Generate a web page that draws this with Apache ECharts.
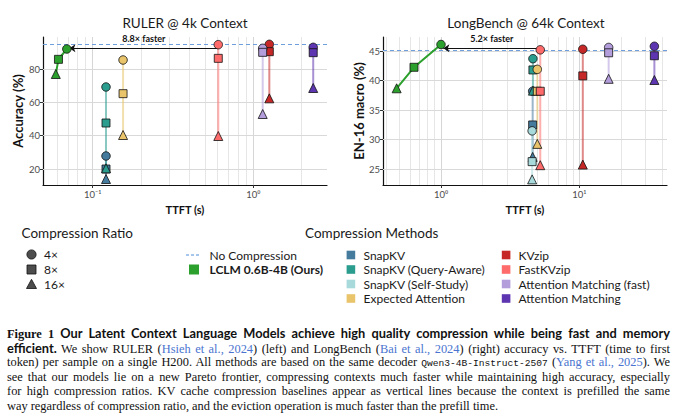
<!DOCTYPE html>
<html>
<head>
<meta charset="utf-8">
<script src="https://cdn.jsdelivr.net/npm/echarts@6/dist/echarts.min.js"></script>
<style>
html,body{margin:0;padding:0;background:#fff;}
#wrap{position:relative;width:677px;height:419px;overflow:hidden;}
#chart{position:absolute;left:0;top:0;width:677px;height:320px;}
#caption{position:absolute;left:7px;top:326px;width:663px;font-family:"Liberation Serif",serif;font-size:12.4px;line-height:14.6px;color:#111;}
#caption .ln{text-align:justify;text-align-last:justify;height:14.6px;overflow:visible;}
#caption .ln.last{text-align:left;text-align-last:left;}
#caption .f{font-weight:bold;}
#caption .b{font-family:Lato,sans-serif;font-weight:bold;font-size:12.8px;}
#caption .c{color:#4a74cf;}
#caption .m{font-family:"Liberation Mono",monospace;font-size:9.6px;}
</style>
</head>
<body>
<div id="wrap">
<div id="chart"></div>
<div id="caption">
<div class="ln"><span class="f">Figure 1</span> <span class="b">Our Latent Context Language Models achieve high quality compression while being fast and memory</span></div>
<div class="ln"><span class="b">efficient.</span> We show RULER (<span class="c">Hsieh et al., 2024</span>) (left) and LongBench (<span class="c">Bai et al., 2024</span>) (right) accuracy vs. TTFT (time to first</div>
<div class="ln">token) per sample on a single H200. All methods are based on the same decoder <span class="m">Qwen3-4B-Instruct-2507</span> (<span class="c">Yang et al., 2025</span>). We</div>
<div class="ln">see that our models lie on a new Pareto frontier, compressing contexts much faster while maintaining high accuracy, especially</div>
<div class="ln">for high compression ratios. KV cache compression baselines appear as vertical lines because the context is prefilled the same</div>
<div class="ln last">way regardless of compression ratio, and the eviction operation is much faster than the prefill time.</div>
</div>
</div>
<script>
// methods / compression ratios
var methodNames=['SnapKV','SnapKV (Query-Aware)','SnapKV (Self-Study)','Expected Attention','KVzip','FastKVzip','Attention Matching (fast)','Attention Matching','LCLM 0.6B-4B (Ours)'];
var methodColors=['#457b9d','#2a9d8f','#a8dadc','#e9c46a','#c62828','#ff6b6b','#b39ddb','#5e35b1','#2ca02c'];
var ratioLabels=['4×','8×','16×'];

// RULER @ 4k : [TTFT (s), accuracy] for 4x, 8x, 16x
var rulerSnapKV=[[0.121,27.8],[0.121,20.0],[0.121,14.0]];
var rulerSnapKVQA=[[0.121,69.2],[0.121,47.6],[0.121,20.4]];
var rulerSnapKVSS=[];
var rulerExpected=[[0.1545,85.4],[0.1545,65.2],[0.1545,40.4]];
var rulerKVzip=[[1.258,94.8],[1.258,90.4],[1.258,62.4]];
var rulerFastKVzip=[[0.605,94.6],[0.605,86.4],[0.605,39.8]];
var rulerAMFast=[[1.144,92.4],[1.144,90.0],[1.144,53.0]];
var rulerAM=[[2.36,93.0],[2.36,89.8],[2.36,68.6]];
var rulerLCLM=[[0.069,92.0],[0.0612,85.8],[0.0589,77.0]];
var rulerNoCompression=94.8;
var rulerYTicks=[20,40,60,80];

// LongBench @ 64k : [TTFT (s), EN-16 macro]
var lbSnapKV=[[4.6,38.2],[4.6,32.5],[4.6,27.1]];
var lbSnapKVQA=[[4.62,43.7],[4.62,41.8],[4.62,38.3]];
var lbSnapKVSS=[[4.56,31.5],[4.56,26.3],[4.56,23.3]];
var lbExpected=[[4.97,41.9],[4.97,38.2],[4.97,29.3]];
var lbKVzip=[[10.6,45.3],[10.6,40.8],[10.6,25.8]];
var lbFastKVzip=[[5.22,45.2],[5.22,38.2],[5.22,25.7]];
var lbAMFast=[[16.3,45.6],[16.3,44.7],[16.3,40.3]];
var lbAM=[[34.9,45.8],[34.9,44.2],[34.9,40.1]];
var lbLCLM=[[1.0,46.1],[0.638,42.25],[0.478,38.7]];
var lbNoCompression=45.2;
var lbYTicks=[25,30,35,40,45];

var xMajor=[0.1,1,10];
var rulerXGrid=[0.05,0.06,0.07,0.08,0.09,0.1,0.2,0.3,0.4,0.5,0.6,0.7,0.8,0.9,1,2];
var lbXGrid=[0.4,0.5,0.6,0.7,0.8,0.9,1,2,3,4,5,6,7,8,9,10,20,30,40];

var shapes=['circle','rect','triangle'];
var sizes=[8.5,8,9];
var FONT='Lato, "Noto Sans", sans-serif';

function powLabel(v){
	var e=Math.round(Math.log(v)/Math.LN10);
	var sup={'-':'⁻','0':'⁰','1':'¹','2':'²'};
	var s=String(e).split('').map(function(c){return sup[c];}).join('');
	return '10'+s;
}

function gridLines(xs,ys){
	var d=[];
	xs.forEach(function(v){
		var major=xMajor.indexOf(v)>=0;
		d.push({xAxis:v,lineStyle:{color:major?'#d6d6d6':'#e6e6e6',width:1,type:'solid'}});
	});
	ys.forEach(function(v){
		d.push({yAxis:v,lineStyle:{color:'#d9d9d9',width:1,type:'solid'}});
	});
	return {silent:true,symbol:'none',z:1,animation:false,label:{show:false},emphasis:{disabled:true},data:d};
}

function panelSeries(gi,sets,extras){
	var out=[];
	sets.forEach(function(pts,mi){
		if(!pts.length) return;
		var color=methodColors[mi];
		var isOurs=mi===8;
		var line={
			type:'line',xAxisIndex:gi,yAxisIndex:gi,data:pts,symbol:'none',silent:true,animation:false,z:2,
			lineStyle:{color:color,width:2,opacity:isOurs?1:0.55}
		};
		if(extras[mi]) line.markLine=extras[mi];
		out.push(line);
	});
	sets.forEach(function(pts,mi){
		if(!pts.length) return;
		out.push({
			type:'scatter',name:methodNames[mi],xAxisIndex:gi,yAxisIndex:gi,animation:false,z:3,
			data:pts.map(function(p,i){return {value:p,symbol:shapes[i],symbolSize:sizes[i]};}),
			itemStyle:{color:methodColors[mi],borderColor:'#111',borderWidth:0.8,opacity:1}
		});
	});
	return out;
}

function noCompLine(y){
	return {silent:true,symbol:'none',z:1,animation:false,label:{show:false},
		data:[{yAxis:y,lineStyle:{color:'#6e9fdc',width:1,type:[4,3]}}]};
}
function arrowLine(x0,x1,y,txt){
	return {silent:true,symbol:['arrow','none'],symbolSize:6,z:2,animation:false,
		lineStyle:{color:'#111',width:1,type:'solid'},
		label:{show:true,position:'middle',formatter:txt,fontFamily:FONT,fontWeight:'bold',fontSize:9,color:'#111',distance:5},
		data:[[{coord:[x0,y]},{coord:[x1,y]}]]};
}

function xAxisCfg(gi,min,max){
	return {
		type:'log',logBase:10,gridIndex:gi,min:min,max:max,
		axisLine:{show:true,onZero:false,lineStyle:{color:'#111',width:1.2}},
		axisTick:{show:true,customValues:xMajor.filter(function(v){return v>=min&&v<=max;}),length:3,lineStyle:{color:'#333'}},
		axisLabel:{customValues:xMajor.filter(function(v){return v>=min&&v<=max;}),formatter:powLabel,color:'#4d4d4d',fontSize:9.5,fontFamily:FONT,margin:4},
		splitLine:{show:false},minorTick:{show:false},
		name:'TTFT (s)',nameLocation:'middle',nameGap:19,
		nameTextStyle:{fontFamily:FONT,fontWeight:'bold',fontSize:11,color:'#111'}
	};
}
function yAxisCfg(gi,min,max,ticks,name,gap){
	return {
		type:'value',gridIndex:gi,min:min,max:max,
		axisLine:{show:true,lineStyle:{color:'#111',width:1.2}},
		axisTick:{show:true,customValues:ticks,length:3,lineStyle:{color:'#333'}},
		axisLabel:{customValues:ticks,color:'#4d4d4d',fontSize:9.5,fontFamily:FONT,margin:3},
		splitLine:{show:false},
		name:name,nameLocation:'middle',nameGap:gap,nameRotate:90,
		nameTextStyle:{fontFamily:FONT,fontWeight:'bold',fontSize:13,color:'#111'}
	};
}

var rulerSets=[rulerSnapKV,rulerSnapKVQA,rulerSnapKVSS,rulerExpected,rulerKVzip,rulerFastKVzip,rulerAMFast,rulerAM,rulerLCLM];
var lbSets=[lbSnapKV,lbSnapKVQA,lbSnapKVSS,lbExpected,lbKVzip,lbFastKVzip,lbAMFast,lbAM,lbLCLM];

var series=[].concat(
	panelSeries(0,rulerSets,{0:gridLines(rulerXGrid,rulerYTicks),1:noCompLine(rulerNoCompression),8:arrowLine(0.0716,rulerFastKVzip[0][0],92.4,'8.8× faster')}),
	panelSeries(1,lbSets,{0:gridLines(lbXGrid,lbYTicks),1:noCompLine(lbNoCompression),8:arrowLine(1.04,lbFastKVzip[0][0],45.45,'5.2× faster')})
);

// legends
var graphics=[];
function txt(x,y,s,size,weight,align){
	graphics.push({type:'text',x:x,y:y,silent:true,style:{text:s,fill:'#1a1a1a',font:(weight||'normal')+' '+size+'px '+FONT,align:align||'left',verticalAlign:'middle'}});
}
txt(185,23,'RULER @ 4k Context',13.5,'normal','center');
txt(526,23,'LongBench @ 64k Context',13.5,'normal','center');
txt(21.5,233,'Compression Ratio',13.5);
var ry=[254.5,269.5,284.5];
graphics.push({type:'circle',silent:true,shape:{cx:31.5,cy:ry[0],r:4.6},style:{fill:'#4d4d4d',stroke:'#111',lineWidth:0.8}});
graphics.push({type:'rect',silent:true,shape:{x:27,y:ry[1]-4.5,width:9,height:9},style:{fill:'#4d4d4d',stroke:'#111',lineWidth:0.8}});
graphics.push({type:'polygon',silent:true,shape:{points:[[31.5,ry[2]-5.2],[36.5,ry[2]+4],[26.5,ry[2]+4]]},style:{fill:'#4d4d4d',stroke:'#111',lineWidth:0.8}});
ratioLabels.forEach(function(r,i){txt(44,ry[i],r,12);});

graphics.push({type:'line',silent:true,shape:{x1:186,y1:255,x2:199.5,y2:255},style:{stroke:'#4f8fd8',lineWidth:1,lineDash:[3,2]}});
txt(209.5,255,'No Compression',12);
graphics.push({type:'rect',silent:true,shape:{x:189,y:264.5,width:10,height:10},style:{fill:methodColors[8]}});
txt(209.5,269.5,methodNames[8],12,'bold');

txt(305,233,'Compression Methods',13.5);
var my=[255,269.5,284,298.5];
for(var i=0;i<8;i++){
	var col=i<4?0:1, row=i%4;
	var sx=col?501.8:346.6, tx=col?518.5:363.5;
	graphics.push({type:'rect',silent:true,shape:{x:sx,y:my[row]-4.3,width:8.6,height:8.6},style:{fill:methodColors[i]}});
	txt(tx,my[row],methodNames[i],12);
}

var chart=echarts.init(document.getElementById('chart'),null,{renderer:'svg'});
chart.setOption({
	backgroundColor:'#fff',
	animation:false,
	grid:[
		{left:43,top:37,width:284,height:148},
		{left:383,top:37,width:284,height:148}
	],
	xAxis:[xAxisCfg(0,0.04903,2.876),xAxisCfg(1,0.3808,43.06)],
	yAxis:[yAxisCfg(0,10.4,99.2,rulerYTicks,'Accuracy (%)',19),yAxisCfg(1,22.35,47.37,lbYTicks,'EN-16 macro (%)',16)],
	series:series,
	graphic:graphics
});
</script>
</body>
</html>
